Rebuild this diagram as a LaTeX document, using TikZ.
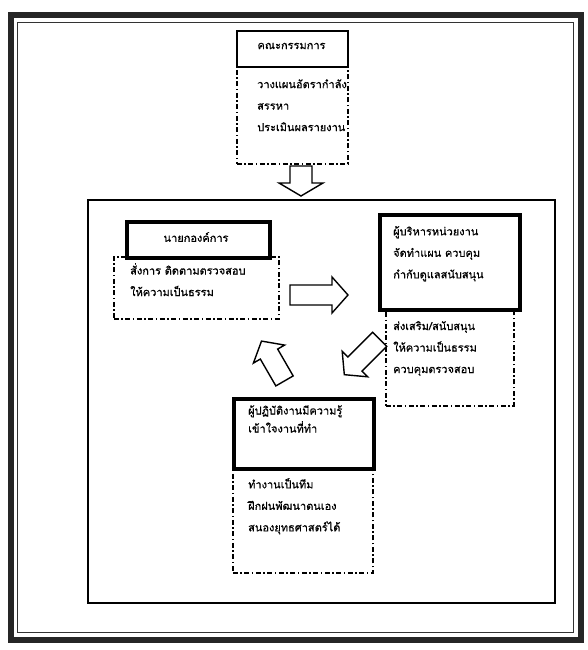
\documentclass[tikz,border=0pt]{standalone}
\usepackage{fontspec}
\newfontfamily\thaifont[Script=Thai,FakeBold=0.6]{Loma}
\tikzset{
  solidbox/.style={draw=black, fill=white, line width=3.5pt, inner sep=0pt},
  combox/.style={draw=black, fill=white, line width=1.6pt, inner sep=0pt},
  ddbox/.style={draw=black, line width=1.6pt, inner sep=0pt, dash pattern=on 5pt off 2.5pt on 1.5pt off 2.5pt},
  txt/.style={font=\thaifont\fontsize{11}{21.5}\selectfont, align=left, inner sep=0pt, anchor=north west},
  ctxt/.style={font=\thaifont\fontsize{11}{21.5}\selectfont, inner sep=0pt},
  blockarrow/.style={draw=black, fill=white, line width=1.4pt, line join=miter}
}
% block arrow: #1 centre, #2 angle, #3 length, #4 shaft width, #5 head width, #6 head length
\newcommand\blockarr[6]{%
  \draw[blockarrow, shift={#1}, rotate=#2]
    (-#3/2,-#4/2) -- (#3/2-#6,-#4/2) -- (#3/2-#6,-#5/2) -- (#3/2,0)
    -- (#3/2-#6,#5/2) -- (#3/2-#6,#4/2) -- (-#3/2,#4/2) -- cycle;}
\begin{document}
\begin{tikzpicture}[x=1pt,y=-1pt]
\useasboundingbox (0,0) rectangle (587,650);
% outer double frame
\draw[line width=6pt, black!85] (10.5,15.5) rectangle (580.5,639.5);
\draw[line width=1.2pt, black!80] (17.5,22.5) rectangle (573.5,632.5);
% inner big rectangle
\draw[line width=1.7pt] (88,200) rectangle (555,603);
% committee
\node[ddbox, minimum width=111pt, minimum height=97pt, anchor=north west] (comd) at (236,66) {};
\node[combox, minimum width=111pt, minimum height=36pt, anchor=north west] (com) at (236,30) {};
\node[ctxt] (comt) at (291.5,46) {คณะกรรมการ};
\node[txt] (comdt) at (257,79) {วางแผนอัตรากำลัง\\สรรหา\\ประเมินผลรายงาน};
% down arrow
\blockarr{(301,181)}{-90}{30}{22}{44}{13}
% chief
\node[ddbox, minimum width=165pt, minimum height=62pt, anchor=north west] (chiefd) at (113,256) {};
\node[solidbox, minimum width=143pt, minimum height=36pt, anchor=north west] (chief) at (125,220) {};
\node[ctxt] (chieft) at (196,237) {นายกองค์การ};
\node[txt] (chiefdt) at (130,263) {สั่งการ ติดตามตรวจสอบ\\ให้ความเป็นธรรม};
% manager
\node[ddbox, minimum width=128pt, minimum height=97pt, anchor=north west] (mgrd) at (385,308) {};
\node[solidbox, minimum width=140pt, minimum height=95pt, anchor=north west] (mgr) at (378,213) {};
\node[txt] (mgrt) at (393,226) {ผู้บริหารหน่วยงาน\\จัดทำแผน ควบคุม\\กำกับดูแลสนับสนุน};
\node[txt] (mgrdt) at (393,321) {ส่งเสริม/สนับสนุน\\ให้ความเป็นธรรม\\ควบคุมตรวจสอบ};
% worker
\node[ddbox, minimum width=140pt, minimum height=105pt, anchor=north west] (wkd) at (232,467) {};
\node[solidbox, minimum width=140pt, minimum height=70pt, anchor=north west] (wk) at (232,397) {};
\node[txt, font=\thaifont\fontsize{11}{18}\selectfont] (wkt) at (248,405) {ผู้ปฏิบัติงานมีความรู้\\เข้าใจงานที่ทำ};
\node[txt] (wkdt) at (248,478) {ทำงานเป็นทีม\\ฝึกฝนพัฒนาตนเอง\\สนองยุทธศาสตร์ได้};
% cycle arrows
\blockarr{(319,295)}{0}{58}{20}{36}{16}
\blockarr{(362,357)}{225}{50}{20}{36}{15}
\blockarr{(273,361)}{120}{46}{20}{36}{15}
\end{tikzpicture}
\end{document}
